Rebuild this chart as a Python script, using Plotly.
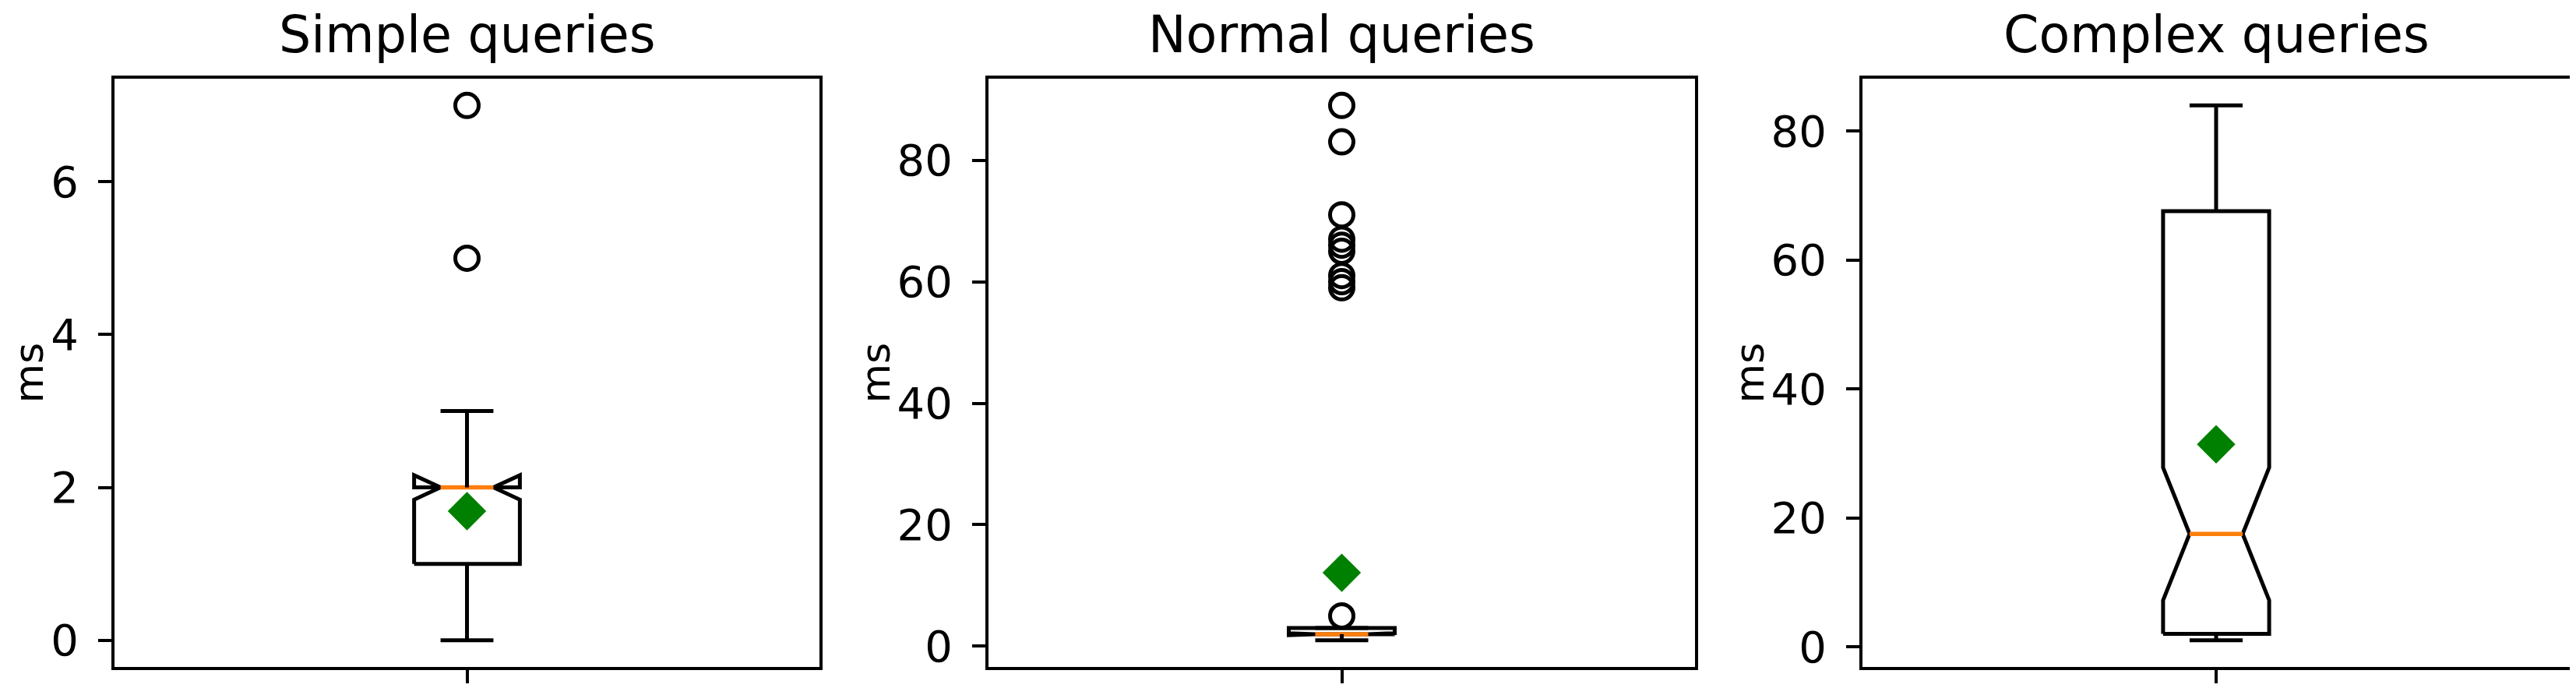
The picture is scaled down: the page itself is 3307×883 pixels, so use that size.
import plotly.graph_objects as go

# box statistics (ms)
titles = ['Simple queries', 'Normal queries', 'Complex queries']
q1 = [1, 2, 2]
medians = [2, 2, 17.5]
q3 = [2, 3, 67.6]
whisker_lo = [0, 1, 1]
whisker_hi = [3, 3, 84]
notch_lo = [1.84, 1.84, 7.2]
notch_hi = [2.16, 2.16, 27.8]
means = [1.69, 12.1, 31.4]
outliers = [
    [5, 7],
    [5, 59, 60, 61, 65, 66, 67, 71, 83, 89],
    [],
]
dticks = [2, 20, 20]

W, H = 3307, 883
x_doms = [(139, 1044), (1261, 2168), (2383, 3291)]  # px
y_top, y_bot = 93, 848  # px
FONT = 'DejaVu Sans'

pos = 1.0
width = 0.15          # matplotlib default box width for a single box
half = width / 2
cap = width / 4

fig = go.Figure()
annotations = []

for i in range(3):
    xa = 'x' if i == 0 else f'x{i + 1}'
    ya = 'y' if i == 0 else f'y{i + 1}'

    # notched box outline (matplotlib style path)
    bl, br = pos - half, pos + half
    cl, cr = pos - cap, pos + cap
    fig.add_trace(go.Scatter(
        x=[bl, br, br, cr, br, br, bl, bl, cl, bl, bl],
        y=[q1[i], q1[i], notch_lo[i], medians[i], notch_hi[i], q3[i], q3[i],
           notch_hi[i], medians[i], notch_lo[i], q1[i]],
        mode='lines', line=dict(color='black', width=5),
        xaxis=xa, yaxis=ya, showlegend=False, hoverinfo='skip'))

    # median
    fig.add_trace(go.Scatter(
        x=[cl, cr], y=[medians[i], medians[i]],
        mode='lines', line=dict(color='#ff7f0e', width=5.5),
        xaxis=xa, yaxis=ya, showlegend=False, hoverinfo='skip'))

    # whiskers + caps
    fig.add_trace(go.Scatter(
        x=[pos, pos, None, pos, pos, None, cl, cr, None, cl, cr],
        y=[q1[i], whisker_lo[i], None, q3[i], whisker_hi[i], None,
           whisker_lo[i], whisker_lo[i], None, whisker_hi[i], whisker_hi[i]],
        mode='lines', line=dict(color='black', width=5),
        xaxis=xa, yaxis=ya, showlegend=False, hoverinfo='skip'))

    # fliers
    if outliers[i]:
        fig.add_trace(go.Scatter(
            x=[pos] * len(outliers[i]), y=outliers[i], mode='markers',
            marker=dict(symbol='circle-open', size=30, color='black',
                        line=dict(width=5)),
            xaxis=xa, yaxis=ya, showlegend=False, hoverinfo='skip'))

    # mean
    fig.add_trace(go.Scatter(
        x=[pos], y=[means[i]], mode='markers',
        marker=dict(symbol='diamond', size=38, color='green'),
        xaxis=xa, yaxis=ya, showlegend=False, hoverinfo='skip'))

    # matplotlib style 5% margins
    all_y = [whisker_lo[i], whisker_hi[i]] + outliers[i]
    lo, hi = min(all_y), max(all_y)
    pad = (hi - lo) * 0.05

    x0, x1 = x_doms[i]
    axis_common = dict(showline=True, linecolor='black', linewidth=4, mirror=True,
                       ticks='outside', ticklen=17, tickwidth=4, tickcolor='black',
                       showgrid=False, zeroline=False, automargin=False)
    fig.update_layout({
        ('xaxis' if i == 0 else f'xaxis{i + 1}'): dict(
            domain=[x0 / W, x1 / W], range=[0.5, 1.5], tickvals=[pos],
            showticklabels=False, anchor=ya, **axis_common),
        ('yaxis' if i == 0 else f'yaxis{i + 1}'): dict(
            domain=[1 - y_bot / H, 1 - y_top / H], range=[lo - pad, hi + pad],
            dtick=dticks[i], tick0=0, anchor=xa, ticklabelstandoff=14,
            tickfont=dict(family=FONT, size=56, color='black'), **axis_common),
    })

    # subplot title
    annotations.append(dict(
        text=titles[i], x=(x0 + x1) / 2 / W, y=1 - y_top / H, xref='paper', yref='paper',
        xanchor='center', yanchor='bottom', yshift=17, showarrow=False,
        font=dict(family=FONT, size=65, color='black')))

# y axis labels
ms_x = [28, 1115, 2237]
for xp in ms_x:
    annotations.append(dict(
        text='ms', x=xp / W, y=1 - (y_top + y_bot) / 2 / H, xref='paper', yref='paper',
        xanchor='center', yanchor='middle', textangle=-90, showarrow=False,
        font=dict(family=FONT, size=52, color='black')))

fig.update_layout(
    width=W, height=H,
    margin=dict(l=0, r=0, t=0, b=0),
    paper_bgcolor='white', plot_bgcolor='white',
    annotations=annotations,
    font=dict(family=FONT),
)

fig.write_html('out.html')
